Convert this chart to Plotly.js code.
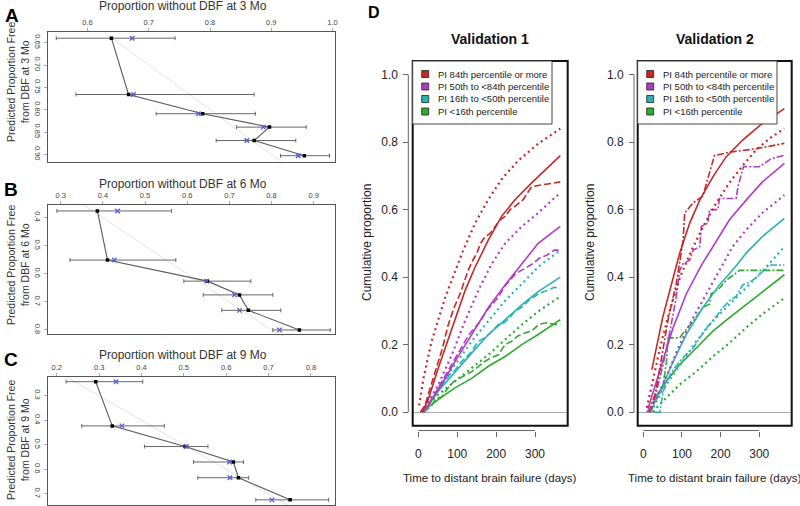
<!DOCTYPE html>
<html>
<head>
<meta charset="utf-8">
<script src="https://cdn.plot.ly/plotly-3.0.1.min.js"></script>
<style>
html, body { margin: 0; padding: 0; background: #fff; }
#chart { width: 800px; height: 506px; }
</style>
</head>
<body>
<div id="chart"></div>
<script>
// ---- panels A-C: calibration (pred = predicted, obs = observed KM, lo/hi = CI, corr = bias-corrected)
var predA = [0.640, 0.766, 0.809, 0.839, 0.869, 0.903];
var obsA  = [0.639, 0.667, 0.788, 0.897, 0.872, 0.954];
var loA   = [0.549, 0.581, 0.712, 0.843, 0.810, 0.915];
var hiA   = [0.743, 0.872, 0.874, 0.957, 0.940, 0.995];
var corrA = [0.673, 0.675, 0.781, 0.887, 0.860, 0.944];

var predB = [0.376, 0.551, 0.626, 0.675, 0.730, 0.800];
var obsB  = [0.387, 0.411, 0.648, 0.724, 0.745, 0.866];
var loB   = [0.291, 0.322, 0.592, 0.638, 0.682, 0.803];
var hiB   = [0.563, 0.573, 0.751, 0.803, 0.822, 0.939];
var corrB = [0.435, 0.427, 0.646, 0.712, 0.724, 0.819];

var predC = [0.243, 0.423, 0.507, 0.570, 0.634, 0.724];
var obsC  = [0.292, 0.331, 0.503, 0.617, 0.629, 0.751];
var loC   = [0.222, 0.259, 0.407, 0.523, 0.533, 0.670];
var hiC   = [0.403, 0.454, 0.557, 0.641, 0.653, 0.842];
var corrC = [0.340, 0.354, 0.506, 0.608, 0.609, 0.708];

// ---- panel D: cumulative proportion vs days
var groupNames = ['PI 84th percentile or more', 'PI 50th to <84th percentile', 'PI 16th to <50th percentile', 'PI <16th percentile'];
var groupColors = ['#C62828', '#B03CC6', '#2BB3B3', '#2EAA2E'];

// Validation 1
var v1RedSolidT = [10, 26, 51, 86, 120, 146, 180, 214, 249, 292, 365];
var v1RedSolidP = [0, 0.04, 0.13, 0.25, 0.36, 0.43, 0.51, 0.58, 0.63, 0.68, 0.76];
var v1RedDotT = [2, 13, 34, 69, 112, 146, 180, 214, 257, 308, 365];
var v1RedDotP = [0.02, 0.10, 0.21, 0.34, 0.47, 0.56, 0.63, 0.69, 0.745, 0.795, 0.84];
var v1RedDashT = [5, 17, 30, 47, 62, 77, 92, 107, 128, 140, 150, 160, 172, 185, 197, 210, 223, 236, 249, 260, 270, 291, 365];
var v1RedDashP = [0, 0.02, 0.07, 0.13, 0.19, 0.26, 0.31, 0.35, 0.42, 0.45, 0.47, 0.50, 0.52, 0.53, 0.55, 0.57, 0.58, 0.60, 0.61, 0.62, 0.63, 0.668, 0.682];

var v1PurSolidT = [13, 26, 60, 94, 137, 180, 223, 266, 308, 365];
var v1PurSolidP = [0, 0.023, 0.082, 0.15, 0.23, 0.31, 0.377, 0.44, 0.50, 0.55];
var v1PurDotT = [10, 17, 51, 86, 120, 154, 189, 223, 266, 308, 365];
var v1PurDotP = [0, 0.013, 0.08, 0.17, 0.27, 0.36, 0.44, 0.50, 0.55, 0.59, 0.65];
var v1PurDashT = [12, 25, 40, 55, 70, 85, 100, 115, 130, 145, 160, 175, 190, 205, 220, 235, 250, 265, 280, 295, 310, 330, 350, 365];
var v1PurDashP = [0, 0.02, 0.05, 0.08, 0.11, 0.14, 0.17, 0.20, 0.23, 0.25, 0.27, 0.30, 0.32, 0.34, 0.37, 0.39, 0.41, 0.42, 0.43, 0.44, 0.455, 0.465, 0.48, 0.48];

var v1TealSolidT = [15, 21, 51, 94, 137, 180, 223, 266, 308, 365];
var v1TealSolidP = [0, 0.013, 0.062, 0.12, 0.175, 0.23, 0.274, 0.318, 0.357, 0.40];
var v1TealDotT = [12, 17, 51, 94, 137, 180, 223, 266, 308, 365];
var v1TealDotP = [0, 0.013, 0.07, 0.14, 0.21, 0.27, 0.33, 0.38, 0.43, 0.48];
var v1TealDashT = [15, 25, 43, 55, 68, 80, 95, 111, 125, 137, 154, 170, 185, 206, 220, 235, 249, 265, 283, 308, 330, 350, 365];
var v1TealDashP = [0, 0.02, 0.05, 0.07, 0.09, 0.11, 0.125, 0.15, 0.165, 0.18, 0.21, 0.22, 0.235, 0.26, 0.265, 0.28, 0.30, 0.31, 0.33, 0.35, 0.36, 0.37, 0.367];

var v1GrnSolidT = [14, 17, 51, 94, 137, 180, 223, 266, 308, 365];
var v1GrnSolidP = [0, 0.008, 0.037, 0.072, 0.10, 0.136, 0.165, 0.20, 0.23, 0.274];
var v1GrnDotT = [12, 17, 51, 94, 137, 180, 223, 266, 308, 365];
var v1GrnDotP = [0, 0.013, 0.052, 0.092, 0.131, 0.17, 0.215, 0.259, 0.298, 0.343];
var v1GrnDashT = [14, 25, 34, 45, 60, 75, 90, 105, 120, 137, 154, 170, 185, 206, 223, 240, 255, 275, 291, 310, 330, 350, 365];
var v1GrnDashP = [0, 0.01, 0.02, 0.04, 0.045, 0.07, 0.09, 0.10, 0.11, 0.12, 0.135, 0.15, 0.16, 0.17, 0.20, 0.21, 0.225, 0.235, 0.24, 0.26, 0.265, 0.26, 0.26];

// Validation 2
var v2RedSolidT = [22, 50, 80, 94, 120, 146, 180, 214, 257, 308, 365];
var v2RedSolidP = [0.126, 0.28, 0.41, 0.471, 0.56, 0.628, 0.697, 0.756, 0.806, 0.855, 0.899];
var v2RedDotT = [9, 25, 45, 68, 95, 125, 155, 189, 223, 257, 291, 326, 365];
var v2RedDotP = [0.013, 0.10, 0.20, 0.30, 0.40, 0.48, 0.55, 0.62, 0.68, 0.73, 0.776, 0.81, 0.84];
var v2RedDashT = [15, 25, 35, 45, 55, 65, 75, 85, 95, 103, 107, 129, 154, 184, 223, 291, 365];
var v2RedDashP = [0, 0.02, 0.08, 0.15, 0.22, 0.28, 0.33, 0.38, 0.45, 0.51, 0.59, 0.62, 0.64, 0.76, 0.77, 0.78, 0.796];

var v2PurSolidT = [12, 26, 51, 77, 111, 150, 180, 223, 266, 308, 365];
var v2PurSolidP = [0.01, 0.062, 0.15, 0.25, 0.35, 0.435, 0.49, 0.57, 0.628, 0.682, 0.737];
var v2PurDotT = [10, 17, 43, 69, 94, 129, 163, 206, 231, 266, 308, 365];
var v2PurDotP = [0, 0.013, 0.062, 0.13, 0.20, 0.28, 0.35, 0.44, 0.49, 0.54, 0.59, 0.643];
var v2PurDashT = [12, 34, 51, 69, 85, 94, 103, 120, 129, 146, 150, 167, 171, 193, 197, 240, 245, 259, 300, 330, 365];
var v2PurDashP = [0, 0.062, 0.14, 0.24, 0.34, 0.42, 0.44, 0.45, 0.48, 0.49, 0.55, 0.56, 0.60, 0.60, 0.633, 0.633, 0.668, 0.727, 0.727, 0.75, 0.761];

var v2TealSolidT = [20, 30, 51, 77, 111, 154, 197, 240, 266, 308, 365];
var v2TealSolidP = [0, 0.033, 0.082, 0.15, 0.23, 0.31, 0.377, 0.433, 0.471, 0.52, 0.574];
var v2TealDotT = [20, 34, 60, 94, 137, 180, 223, 266, 308, 326, 365];
var v2TealDotP = [0, 0.033, 0.082, 0.14, 0.21, 0.27, 0.32, 0.367, 0.417, 0.44, 0.49];
var v2TealDashT = [30, 43, 51, 60, 69, 80, 94, 110, 129, 145, 163, 180, 206, 223, 240, 257, 275, 291, 308, 326, 365];
var v2TealDashP = [0, 0, 0.06, 0.09, 0.11, 0.13, 0.15, 0.17, 0.19, 0.22, 0.25, 0.27, 0.31, 0.33, 0.343, 0.377, 0.385, 0.397, 0.417, 0.436, 0.436];

var v2GrnSolidT = [26, 43, 60, 94, 137, 180, 223, 266, 308, 365];
var v2GrnSolidP = [0.042, 0.062, 0.092, 0.141, 0.19, 0.24, 0.28, 0.318, 0.357, 0.407];
var v2GrnDotT = [26, 34, 60, 94, 137, 180, 223, 266, 308, 365];
var v2GrnDotP = [0, 0.013, 0.043, 0.082, 0.12, 0.165, 0.205, 0.25, 0.29, 0.338];
var v2GrnDashT = [30, 40, 51, 60, 64, 94, 111, 129, 154, 171, 175, 197, 214, 249, 365];
var v2GrnDashP = [0.03, 0.05, 0.08, 0.15, 0.22, 0.22, 0.245, 0.27, 0.31, 0.32, 0.35, 0.367, 0.39, 0.42, 0.42];

// pixel -> paper helpers (800 x 506 page)
function fx(x) { return x / 800; }
function fy(y) { return 1 - y / 506; }

var SANS = 'Liberation Sans, Arial, sans-serif';
var NARROW = 'Liberation Sans Narrow, Arial Narrow, Liberation Sans, sans-serif';

function calib(obs, pred, lo, hi, corr, xa, ya) {
  return [
    {x: [0, 1], y: [0, 1], mode: 'lines', line: {color: '#e2e2e2', width: 1}, xaxis: xa, yaxis: ya, hoverinfo: 'skip'},
    {x: obs, y: pred, mode: 'lines+markers', xaxis: xa, yaxis: ya,
     line: {color: '#5a5a5a', width: 1.1},
     marker: {symbol: 'square', size: 3.5, color: '#000'},
     error_x: {type: 'data', symmetric: false,
       array: hi.map(function(h, i) { return h - obs[i]; }),
       arrayminus: lo.map(function(l, i) { return obs[i] - l; }),
       color: '#666', thickness: 1, width: 2}},
    {x: corr, y: pred, mode: 'markers', xaxis: xa, yaxis: ya,
     marker: {symbol: 'x-thin', size: 4.5, line: {width: 1.3, color: '#5a5ae0'}}}
  ];
}

var DOT = '2px,3.5px', DASH1 = '7px,3px', DASH2 = '7px,2px,2px,2px';
function curve(t, p, gi, dash, xa, ya) {
  return {x: t, y: p, mode: 'lines', xaxis: xa, yaxis: ya, hoverinfo: 'skip',
    line: {color: groupColors[gi], width: dash === DOT ? 2.2 : 1.6, dash: dash}};
}

var data = [].concat(
  calib(obsA, predA, loA, hiA, corrA, 'x', 'y'),
  calib(obsB, predB, loB, hiB, corrB, 'x2', 'y2'),
  calib(obsC, predC, loC, hiC, corrC, 'x3', 'y3'),
  [
    curve(v1GrnDotT, v1GrnDotP, 3, DOT, 'x4', 'y4'),
    curve(v1GrnDashT, v1GrnDashP, 3, DASH1, 'x4', 'y4'),
    curve(v1GrnSolidT, v1GrnSolidP, 3, 'solid', 'x4', 'y4'),
    curve(v1TealDotT, v1TealDotP, 2, DOT, 'x4', 'y4'),
    curve(v1TealDashT, v1TealDashP, 2, DASH1, 'x4', 'y4'),
    curve(v1TealSolidT, v1TealSolidP, 2, 'solid', 'x4', 'y4'),
    curve(v1PurDotT, v1PurDotP, 1, DOT, 'x4', 'y4'),
    curve(v1PurDashT, v1PurDashP, 1, DASH1, 'x4', 'y4'),
    curve(v1PurSolidT, v1PurSolidP, 1, 'solid', 'x4', 'y4'),
    curve(v1RedDotT, v1RedDotP, 0, DOT, 'x4', 'y4'),
    curve(v1RedDashT, v1RedDashP, 0, DASH1, 'x4', 'y4'),
    curve(v1RedSolidT, v1RedSolidP, 0, 'solid', 'x4', 'y4'),

    curve(v2GrnDotT, v2GrnDotP, 3, DOT, 'x5', 'y5'),
    curve(v2GrnDashT, v2GrnDashP, 3, DASH2, 'x5', 'y5'),
    curve(v2GrnSolidT, v2GrnSolidP, 3, 'solid', 'x5', 'y5'),
    curve(v2TealDotT, v2TealDotP, 2, DOT, 'x5', 'y5'),
    curve(v2TealDashT, v2TealDashP, 2, DASH2, 'x5', 'y5'),
    curve(v2TealSolidT, v2TealSolidP, 2, 'solid', 'x5', 'y5'),
    curve(v2PurDotT, v2PurDotP, 1, DOT, 'x5', 'y5'),
    curve(v2PurDashT, v2PurDashP, 1, DASH2, 'x5', 'y5'),
    curve(v2PurSolidT, v2PurSolidP, 1, 'solid', 'x5', 'y5'),
    curve(v2RedDotT, v2RedDotP, 0, DOT, 'x5', 'y5'),
    curve(v2RedDashT, v2RedDashP, 0, DASH2, 'x5', 'y5'),
    curve(v2RedSolidT, v2RedSolidP, 0, 'solid', 'x5', 'y5')
  ]
);

// axes
function calX(dom, range, vals, anchor) {
  return {domain: dom, range: range, side: 'top', anchor: anchor, showline: true, mirror: true,
    linecolor: '#555', linewidth: 1, ticks: 'outside', ticklen: 3, tickcolor: '#aaa',
    tickvals: vals, tickformat: '.1f', tickfont: {family: SANS, size: 7.5, color: '#444'},
    showgrid: false, zeroline: false};
}
function calY(dom, range, vals, fmt, anchor) {
  return {domain: dom, range: range, anchor: anchor, showline: true, mirror: true,
    linecolor: '#555', linewidth: 1, ticks: 'outside', ticklen: 3, tickcolor: '#aaa',
    tickvals: vals, tickformat: fmt, tickangle: 90, tickfont: {family: SANS, size: 7.5, color: '#444'},
    showgrid: false, zeroline: false};
}
function survX(dom, pos) {
  return {domain: dom, range: [-14.6, 384], anchor: 'free', position: pos, showline: false,
    ticks: 'outside', ticklen: 5, tickcolor: '#666', tickvals: [0, 100, 200, 300], ticklabelstandoff: 7,
    tickfont: {family: SANS, size: 12, color: '#222'}, showgrid: false, zeroline: false};
}
function survY(pos) {
  return {domain: [fy(425.7), fy(61)], range: [-0.04, 1.04], anchor: 'free', position: pos, showline: false,
    ticks: 'outside', ticklen: 5, tickcolor: '#666', tickvals: [0, 0.2, 0.4, 0.6, 0.8, 1.0], tickformat: '.1f',
    ticklabelstandoff: 3,
    tickfont: {family: SANS, size: 12, color: '#222'}, showgrid: false,
    zeroline: true, zerolinecolor: '#a8a8a8', zerolinewidth: 1};
}

var shapes = [];
var annotations = [];

// panel D boxes, R-style axis lines, legends
[['x4', 'y4', 412.7, 408.3], ['x5', 'y5', 637.7, 634]].forEach(function(s) {
  shapes.push({type: 'rect', xref: s[0] + ' domain', yref: s[1] + ' domain', x0: 0, x1: 1, y0: 0, y1: 1,
    line: {color: '#111', width: 2}, layer: 'above'});
  shapes.push({type: 'line', xref: s[0], yref: 'paper', x0: 0, x1: 300, y0: fy(430.5), y1: fy(430.5),
    line: {color: '#666', width: 1}});
  shapes.push({type: 'line', xref: 'paper', yref: s[1], x0: fx(s[3]), x1: fx(s[3]), y0: 0, y1: 1,
    line: {color: '#666', width: 1}});
  var L = s[2];
  shapes.push({type: 'rect', xref: 'paper', yref: 'paper', x0: fx(L), x1: fx(L + 139.3), y0: fy(124), y1: fy(61),
    fillcolor: '#fff', line: {color: '#444', width: 1}, layer: 'above'});
  groupNames.forEach(function(name, i) {
    var cy = 74 + i * 12.5;
    shapes.push({type: 'rect', xref: 'paper', yref: 'paper', x0: fx(L + 9), x1: fx(L + 16), y0: fy(cy + 3.5), y1: fy(cy - 3.5),
      fillcolor: groupColors[i], line: {color: '#222', width: 0.8}, layer: 'above'});
    annotations.push({xref: 'paper', yref: 'paper', x: fx(L + 23.5), y: fy(cy), xanchor: 'left', yanchor: 'middle',
      text: name.replace('<', '&lt;'), showarrow: false, font: {family: SANS, size: 9.5, color: '#222'}});
  });
});

function note(text, x, y, size, opts) {
  var a = {xref: 'paper', yref: 'paper', x: fx(x), y: fy(y), xanchor: 'center', yanchor: 'middle',
    text: text, showarrow: false, font: {family: SANS, size: size, color: '#222'}};
  for (var k in opts) a[k] = opts[k];
  annotations.push(a);
}

// panel letters
note('<b>A</b>', 11.5, 15, 19, {font: {family: SANS, size: 19, color: '#000'}});
note('<b>B</b>', 11, 189, 19, {font: {family: SANS, size: 19, color: '#000'}});
note('<b>C</b>', 11, 359, 19, {font: {family: SANS, size: 19, color: '#000'}});
note('<b>D</b>', 373.5, 12.5, 16, {font: {family: SANS, size: 16, color: '#000'}});

// calibration titles
var calTitle = {family: NARROW, size: 12, color: '#333'};
var calSide = {family: NARROW, size: 10.5, color: '#333'};
note('Proportion without DBF at 3 Mo', 183, 6, 12, {font: calTitle});
note('Proportion without DBF at 6 Mo', 183, 184, 12, {font: calTitle});
note('Proportion without DBF at 9 Mo', 183, 355, 12, {font: calTitle});
note('Predicted Proportion Free<br>from DBF at 3 Mo', 18, 82, 10.5, {font: calSide, textangle: -90});
note('Predicted Proportion Free<br>from DBF at 6 Mo', 18, 265, 10.5, {font: calSide, textangle: -90});
note('Predicted Proportion Free<br>from DBF at 9 Mo', 18, 440, 10.5, {font: calSide, textangle: -90});

// panel D titles
note('<b>Validation 1</b>', 490, 39, 14, {font: {family: SANS, size: 14, color: '#111'}});
note('<b>Validation 2</b>', 714.7, 39, 14, {font: {family: SANS, size: 14, color: '#111'}});
note('Time to distant brain failure (days)', 490, 478, 11.5, {});
note('Time to distant brain failure (days)', 714.7, 478, 11.5, {});
note('Cumulative proportion', 367, 243, 12, {textangle: -90});
note('Cumulative proportion', 590, 243, 12, {textangle: -90});

var layout = {
  width: 800, height: 506,
  margin: {l: 0, r: 0, t: 0, b: 0},
  paper_bgcolor: '#fff', plot_bgcolor: '#fff',
  showlegend: false,
  font: {family: SANS},
  xaxis: calX([fx(48.3), fx(335)], [0.536, 1.004], [0.6, 0.7, 0.8, 0.9, 1.0], 'y'),
  yaxis: calY([fy(161.7), fy(32.3)], [0.9164, 0.6268], [0.65, 0.70, 0.75, 0.80, 0.85, 0.90], '.2f', 'x'),
  xaxis2: calX([fx(48.3), fx(335)], [0.2706, 0.9505], [0.3, 0.4, 0.5, 0.6, 0.7, 0.8, 0.9], 'y2'),
  yaxis2: calY([fy(333.5), fy(205)], [0.8125, 0.3548], [0.4, 0.5, 0.6, 0.7, 0.8], '.1f', 'x2'),
  xaxis3: calX([fx(48.3), fx(335)], [0.180, 0.857], [0.2, 0.3, 0.4, 0.5, 0.6, 0.7, 0.8], 'y3'),
  yaxis3: calY([fy(505), fy(376.7)], [0.745, 0.2227], [0.3, 0.4, 0.5, 0.6, 0.7], '.1f', 'x3'),
  xaxis4: survX([fx(412.7), fx(567.7)], fy(430.5)),
  yaxis4: survY(fx(408.3)),
  xaxis5: survX([fx(637.7), fx(791.7)], fy(430.5)),
  yaxis5: survY(fx(634)),
  shapes: shapes,
  annotations: annotations
};

Plotly.newPlot('chart', data, layout, {displayModeBar: false, staticPlot: true});
</script>
</body>
</html>
